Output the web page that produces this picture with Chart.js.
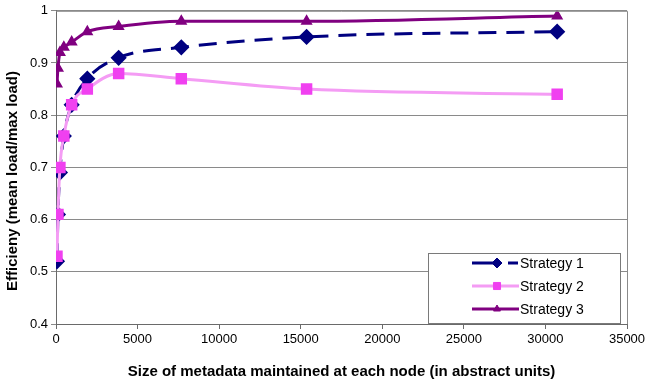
<!DOCTYPE html>
<html>
<head>
<meta charset="utf-8">
<script src="https://cdn.jsdelivr.net/npm/chart.js@4/dist/chart.umd.min.js"></script>
<style>
  html, body { margin: 0; padding: 0; background: #fff; }
  #wrap { width: 650px; height: 385px; position: relative; }
</style>
</head>
<body>
<div id="wrap"><canvas id="eff-canvas" width="650" height="385"></canvas></div>
<script>
// metadata size (abstract units)
const sizes = [60, 120, 240, 480, 960, 1920, 3840, 7680, 15360, 30720];
const strategy1 = [0.52, 0.61, 0.69, 0.76, 0.82, 0.87, 0.91, 0.93, 0.95, 0.96];
const strategy2 = [0.53, 0.61, 0.70, 0.76, 0.82, 0.85, 0.88, 0.87, 0.85, 0.84];
const strategy3 = [0.86, 0.89, 0.92, 0.93, 0.94, 0.96, 0.97, 0.98, 0.98, 0.99];
const seriesNames = ["Strategy 1", "Strategy 2", "Strategy 3"];
const xTicks = [0, 5000, 10000, 15000, 20000, 25000, 30000, 35000];
const yTicks = [0.4, 0.5, 0.6, 0.7, 0.8, 0.9, 1];
const yTitle = "Efficieny (mean load/max load)";
const xTitle = "Size of metadata maintained at each node (in abstract units)";

const FONT = "'Liberation Sans', Arial, sans-serif";

function toPoints(vals) {
  return sizes.map((x, i) => ({ x: x, y: vals[i] }));
}

// plot frame, y title and legend box drawn by hand, like the excel original
const framePlugin = {
  id: 'frame',
  afterDraw(chart) {
    const ctx = chart.ctx;
    const a = chart.chartArea;
    ctx.save();
    ctx.strokeStyle = '#8a8a8a';
    ctx.lineWidth = 1;
    ctx.beginPath();
    ctx.moveTo(a.left, a.top + 0.5);
    ctx.lineTo(a.right + 0.5, a.top + 0.5);
    ctx.lineTo(a.right + 0.5, a.bottom);
    ctx.stroke();

    // y title (sits a bit below the plot centre in the original)
    ctx.save();
    ctx.translate(13, 181);
    ctx.rotate(-Math.PI / 2);
    ctx.fillStyle = '#000';
    ctx.font = 'bold 15px ' + FONT;
    ctx.textAlign = 'center';
    ctx.textBaseline = 'middle';
    ctx.fillText(yTitle, 0, 0);
    ctx.restore();

    // legend
    const bx = 428, by = 253, bw = 192, bh = 70;
    ctx.fillStyle = '#fff';
    ctx.fillRect(bx, by, bw, bh);
    ctx.strokeStyle = '#7a7a7a';
    ctx.lineWidth = 1;
    ctx.strokeRect(bx + 0.5, by + 0.5, bw, bh);

    const rows = [263, 286, 309];
    chart.data.datasets.forEach((ds, i) => {
      const y = rows[i];
      ctx.strokeStyle = ds.borderColor;
      ctx.lineWidth = ds.borderWidth;
      ctx.beginPath();
      if (i == 0) {
        ctx.moveTo(472, y); ctx.lineTo(497, y);
        ctx.moveTo(508, y); ctx.lineTo(518, y);
      } else {
        ctx.moveTo(472, y); ctx.lineTo(519, y);
      }
      ctx.stroke();
      ctx.fillStyle = ds.pointBackgroundColor;
      ctx.strokeStyle = ds.pointBorderColor;
      ctx.lineWidth = 1;
      Chart.helpers.drawPoint(ctx, {
        pointStyle: ds.pointStyle,
        radius: ds.legendRadius,
        borderWidth: 1
      }, 497, y);
      ctx.fillStyle = '#000';
      ctx.font = '14px ' + FONT;
      ctx.textBaseline = 'middle';
      ctx.textAlign = 'left';
      ctx.fillText(ds.label, 520, y + 1);
    });
    ctx.restore();
  }
};

function makeChart() {
  const ctx = document.getElementById('eff-canvas');
  return new Chart(ctx, {
    type: 'line',
    data: {
      datasets: [
        {
          label: seriesNames[0],
          data: toPoints(strategy1),
          borderColor: '#000080',
          backgroundColor: '#000080',
          borderWidth: 3,
          borderDash: [18, 10],
          pointStyle: 'rectRot',
          pointRadius: 6,
          legendRadius: 5,
          pointBackgroundColor: '#000080',
          pointBorderColor: '#000080',
          order: 3
        },
        {
          label: seriesNames[1],
          data: toPoints(strategy2),
          borderColor: '#f49cf4',
          backgroundColor: '#f040f0',
          borderWidth: 3,
          pointStyle: 'rect',
          pointRadius: 6,
          legendRadius: 5,
          pointBackgroundColor: '#f040f0',
          pointBorderColor: '#f040f0',
          order: 2
        },
        {
          label: seriesNames[2],
          data: toPoints(strategy3),
          borderColor: '#800080',
          backgroundColor: '#800080',
          borderWidth: 3,
          pointStyle: 'triangle',
          pointRadius: 4,
          legendRadius: 4,
          pointBackgroundColor: '#800080',
          pointBorderColor: '#800080',
          order: 1
        }
      ]
    },
    options: {
      responsive: false,
      animation: false,
      elements: { line: { tension: 0.4, cubicInterpolationMode: 'monotone' } },
      layout: { padding: { left: 0, right: 23, top: 10, bottom: 0 } },
      plugins: {
        legend: { display: false },
        tooltip: { enabled: false }
      },
      scales: {
        x: {
          type: 'linear',
          min: 0,
          max: 35000,
          afterBuildTicks: (axis) => { axis.ticks = xTicks.map(v => ({ value: v })); },
          afterFit: (axis) => { axis.height = 61; },
          border: { color: '#6a6a6a', width: 1 },
          grid: { drawOnChartArea: false, tickLength: 5, color: '#6a6a6a' },
          ticks: {
            color: '#000',
            font: { family: FONT, size: 13 },
            padding: 3,
            maxRotation: 0,
            callback: (v) => String(v)
          },
          title: {
            display: true,
            text: xTitle,
            color: '#000',
            font: { family: FONT, size: 15, weight: 'bold' },
            padding: { top: 6 }
          }
        },
        y: {
          min: 0.4,
          max: 1,
          afterBuildTicks: (axis) => { axis.ticks = yTicks.map(v => ({ value: v })); },
          afterFit: (axis) => { axis.width = 56; },
          border: { color: '#6a6a6a', width: 1 },
          grid: { color: '#8a8a8a', tickLength: 5 },
          ticks: {
            color: '#000',
            font: { family: FONT, size: 13 },
            padding: 3,
            callback: (v) => (v == 1 ? '1' : v.toFixed(1))
          },
          title: { display: false }
        }
      }
    },
    plugins: [framePlugin]
  });
}

var effChart = makeChart();
</script>
</body>
</html>
